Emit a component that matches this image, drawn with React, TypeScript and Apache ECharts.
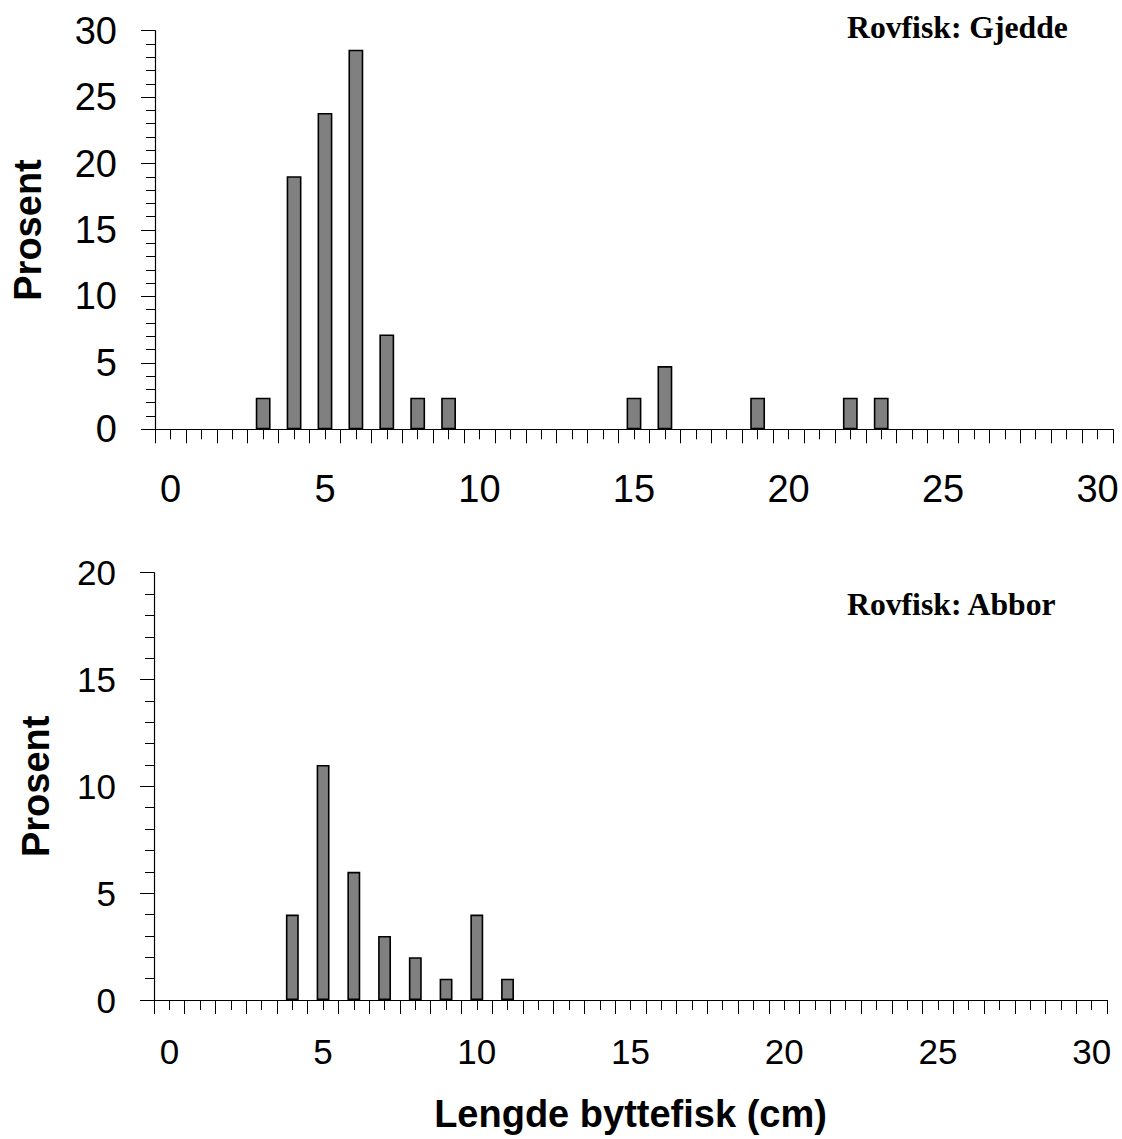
import React, { useEffect, useRef } from "react";
import * as echarts from "echarts";

const lengths = ["0","1","2","3","4","5","6","7","8","9","10","11","12","13","14","15","16","17","18","19","20","21","22","23","24","25","26","27","28","29","30"];
const gjeddeValues = [0,0,0,2.38,19.05,23.81,28.57,7.14,2.38,2.38,0,0,0,0,0,2.38,4.76,0,0,2.38,0,0,2.38,2.38,0,0,0,0,0,0,0];
const abborValues = [0,0,0,0,4,11,6,3,2,1,4,1,0,0,0,0,0,0,0,0,0,0,0,0,0,0,0,0,0,0,0];
const topTitle = "Rovfisk: Gjedde";
const bottomTitle = "Rovfisk: Abbor";
const yName = "Prosent";
const xName = "Lengde byttefisk (cm)";

const SANS = "Liberation Sans";
const SERIF = "Liberation Serif";

function mainX(gridIndex: number, margin: number, fontSize: number, extra: any = {}) {
  return {
    gridIndex,
    type: "category",
    data: lengths,
    position: "bottom",
    boundaryGap: true,
    axisLine: { show: true, lineStyle: { color: "#000", width: 1.2 } },
    axisTick: { show: true, interval: 0, length: 14, alignWithLabel: false, lineStyle: { color: "#000", width: 1 } },
    axisLabel: { show: true, interval: 4, fontSize, fontFamily: SANS, color: "#000", margin },
    splitLine: { show: false },
    ...extra,
  };
}
function overlayX(gridIndex: number) {
  return {
    gridIndex,
    type: "category",
    data: lengths,
    position: "bottom",
    boundaryGap: true,
    axisLine: { show: false },
    axisTick: { show: true, interval: 0, length: 10, alignWithLabel: true, lineStyle: { color: "#000", width: 1 } },
    axisLabel: { show: false },
    splitLine: { show: false },
  };
}
function yAx(gridIndex: number, max: number, nameGap: number, fontSize: number) {
  return {
    gridIndex,
    type: "value",
    min: 0,
    max,
    interval: 5,
    axisLine: { show: true, lineStyle: { color: "#000", width: 1.2 } },
    axisTick: { show: true, length: 14, lineStyle: { color: "#000", width: 1 } },
    minorTick: { show: true, splitNumber: 5, length: 9, lineStyle: { color: "#000", width: 1 } },
    splitLine: { show: false },
    minorSplitLine: { show: false },
    axisLabel: { fontSize, fontFamily: SANS, color: "#000", margin: 38 },
    name: yName,
    nameLocation: "middle",
    nameRotate: 90,
    nameGap,
    nameMoveOverlap: false,
    nameTextStyle: { fontSize: 38, fontWeight: "bold", fontFamily: SANS, color: "#000" },
  };
}

const toBar = (arr: number[]) => arr.map((v) => (v === 0 ? "-" : v));

export default function App() {
  const ref = useRef<HTMLDivElement>(null);
  useEffect(() => {
    if (!ref.current) return;
    const chart = echarts.init(ref.current, null, { renderer: "svg" });
    chart.setOption({
      animation: false,
      backgroundColor: "#fff",
      grid: [
        { left: 155, top: 30.7, width: 958, height: 398.6 },
        { left: 154, top: 572.7, width: 953, height: 427.3 },
      ],
      xAxis: [
        mainX(0, 41, 38),
        overlayX(0),
        mainX(1, 34, 35, {
          name: xName,
          nameLocation: "middle",
          nameGap: 95,
          nameMoveOverlap: false,
          nameTextStyle: { fontSize: 38, fontWeight: "bold", fontFamily: SANS, color: "#000" },
        }),
        overlayX(1),
      ],
      yAxis: [yAx(0, 30, 108, 38), yAx(1, 20, 99, 35)],
      series: [
        {
          type: "bar",
          xAxisIndex: 0,
          yAxisIndex: 0,
          data: toBar(gjeddeValues),
          barWidth: "48%",
          itemStyle: { color: "#808080", borderColor: "#000", borderWidth: 1.6 },
        },
        {
          type: "bar",
          xAxisIndex: 2,
          yAxisIndex: 1,
          data: toBar(abborValues),
          barWidth: "42%",
          itemStyle: { color: "#808080", borderColor: "#000", borderWidth: 1.6 },
        },
      ],
      graphic: [
        {
          type: "text",
          x: 847,
          y: 27.2,
          style: { text: topTitle, font: `bold 31.7px "${SERIF}"`, fill: "#000", align: "left", verticalAlign: "middle" },
        },
        {
          type: "text",
          x: 847,
          y: 604,
          style: { text: bottomTitle, font: `bold 31.7px "${SERIF}"`, fill: "#000", align: "left", verticalAlign: "middle" },
        },
      ],
    });
    return () => chart.dispose();
  }, []);
  return (
    <div
      ref={ref}
      style={{ position: "absolute", left: 0, top: 0, width: 1122, height: 1139, background: "#fff" }}
    />
  );
}
